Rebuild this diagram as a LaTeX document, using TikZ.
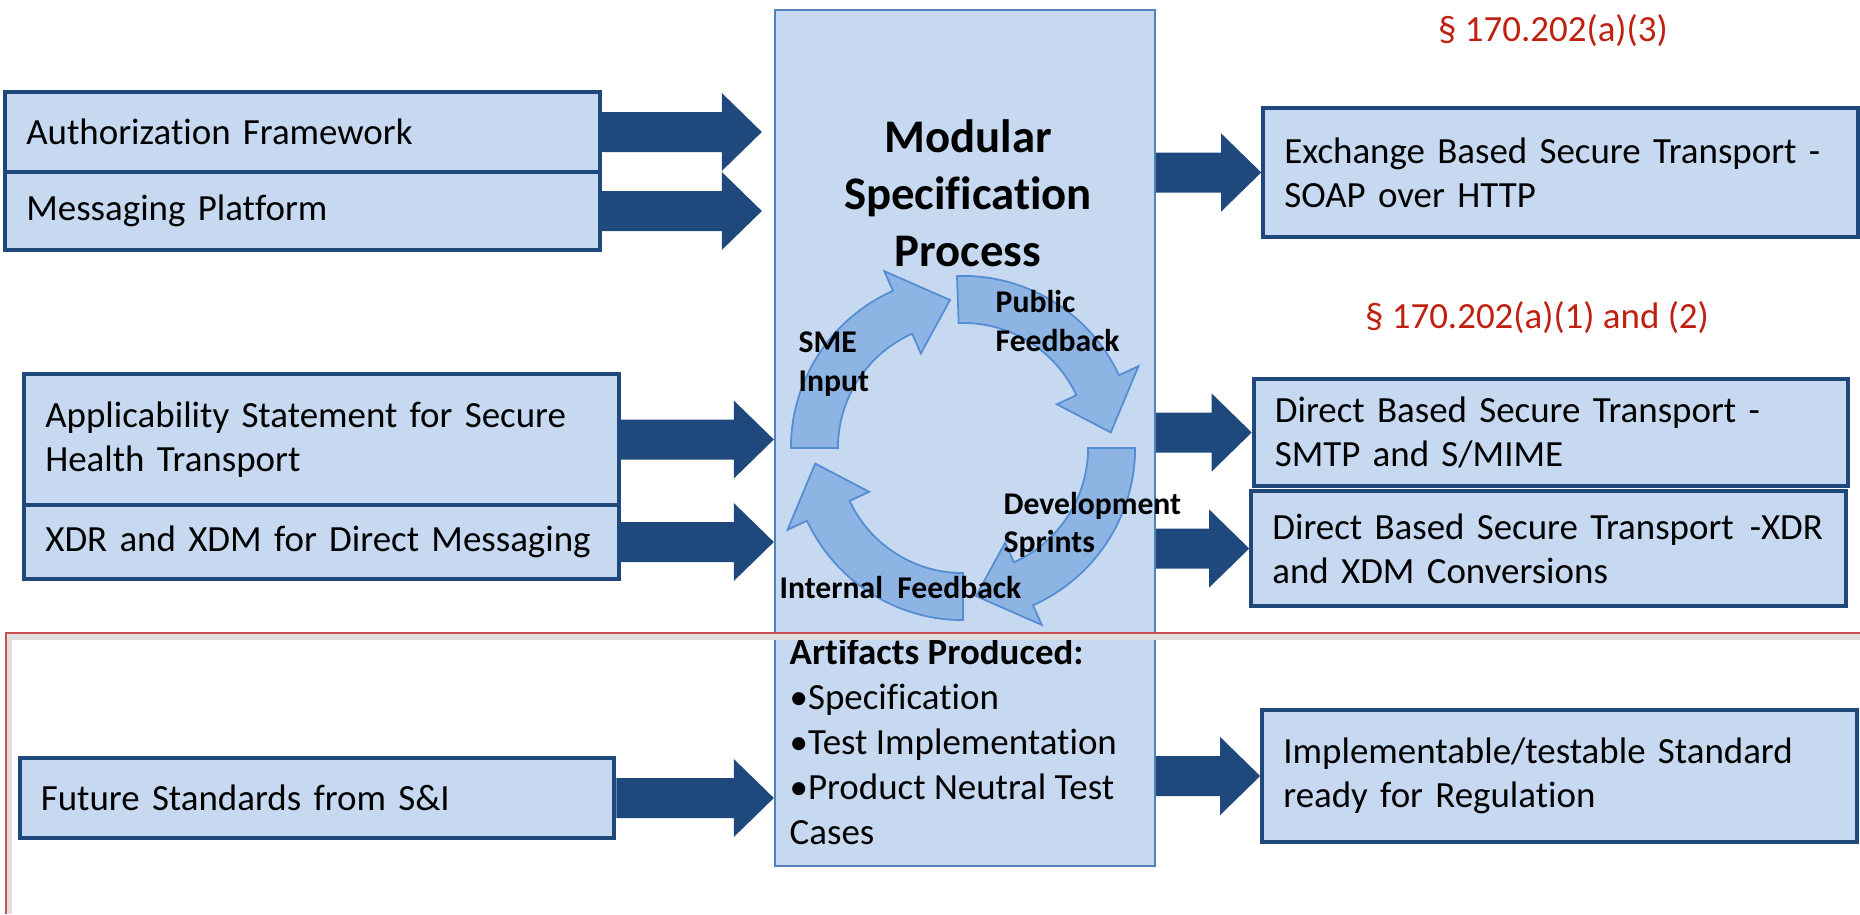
\documentclass[tikz,border=0pt]{standalone}
\usepackage{fontspec}
\setmainfont{Carlito}[Ligatures={NoCommon,NoContextual}]
\usetikzlibrary{calc}

\definecolor{boxfill}{RGB}{198,217,241}
\definecolor{boxline}{RGB}{31,73,125}
\definecolor{procline}{RGB}{79,129,189}
\definecolor{cycfill}{RGB}{141,180,226}
\definecolor{cycline}{RGB}{84,141,212}
\definecolor{regred}{RGB}{192,32,16}
\definecolor{framered}{RGB}{200,80,77}

\tikzset{
  stdbox/.style={draw=boxline, fill=boxfill, line width=1.2pt, inner xsep=0.21cm, inner ysep=0pt,
    text width=5.52cm, align=left, font=\fontsize{10.5}{12.6}\selectfont},
  procbox/.style={draw=procline, fill=boxfill, line width=0.6pt},
  blockarr/.style={fill=boxline},
  cycarr/.style={fill=cycfill, draw=cycline, line width=0.5pt},
  cyclabel/.style={anchor=west, inner sep=0pt, align=left, font=\bfseries\fontsize{9}{11}\selectfont},
  regref/.style={text=regred, font=\fontsize{10.5}{12.6}\selectfont},
  frameline/.style={draw=framered, line width=0.6pt},
}

% block arrow from a start point to a tip (tip height is used)
\newcommand{\fatarrow}[2]{%
  \fill[blockarr] let \p1=(#1), \p2=(#2) in
    (\x1,\y2+0.2cm) -- (\x2-0.4cm,\y2+0.2cm) -- (\x2-0.4cm,\y2+0.39cm) -- (\x2,\y2)
    -- (\x2-0.4cm,\y2-0.39cm) -- (\x2-0.4cm,\y2-0.2cm) -- (\x1,\y2-0.2cm) -- cycle;}

% curved arrow of the cycle: start angle, tip angle
\newcommand{\cycarrow}[2]{%
  \pgfmathsetmacro{\hb}{#2+19}
  \filldraw[cycarr] (#1:1.72cm) arc[start angle=#1, end angle=\hb, radius=1.72cm]
    -- (\hb:1.935cm) -- (#2:1.485cm) -- (\hb:1.035cm) -- (\hb:1.25cm)
    arc[start angle=\hb, end angle=#1, radius=1.25cm] -- cycle;}

\begin{document}
\begin{tikzpicture}[x=0.01cm, y=-0.01cm]
  \useasboundingbox (0,0) rectangle (1860,914);

  % inputs
  \node[stdbox, minimum height=0.80cm] (auth) at (302.5,132) {Authorization Framework};
  \node[stdbox, minimum height=0.78cm] (msg) at (302.5,211) {Messaging Platform};
  \node[stdbox, minimum height=1.31cm] (appl) at (321.5,439.5) {Applicability Statement for Secure\\Health Transport};
  \node[stdbox, minimum height=0.74cm] (xdr) at (321.5,542) {XDR and XDM for Direct Messaging};
  \node[stdbox, minimum height=0.80cm] (future) at (317,798) {Future Standards from S\&I};

  % process
  \node[procbox, minimum width=3.8cm, minimum height=8.56cm] (proc) at (965,438) {};

  % outputs
  \node[stdbox, minimum height=1.29cm] (exch) at (1560.5,172.5) {Exchange Based Secure Transport -\\SOAP over HTTP};
  \node[stdbox, minimum height=1.07cm] (smtp) at (1551,432.5) {Direct Based Secure Transport -\\SMTP and S/MIME};
  \node[stdbox, minimum height=1.15cm] (xdrc) at (1548.5,548.5) {\mbox{Direct Based Secure Transport\hspace{0.1em} -XDR}\\and XDM Conversions};
  \node[stdbox, minimum height=1.32cm] (impl) at (1559.5,776) {Implementable/testable Standard\\ready for Regulation};

  \node[regref] (reg3) at (1553,31) {§ 170.202(a)(3)};
  \node[regref] (reg12) at (1537,318) {§ 170.202(a)(1) and (2)};

  \fatarrow{auth.east}{$(proc.west |- auth.east)+(-12,0)$}
  \fatarrow{msg.east}{$(proc.west |- msg.east)+(-12,0)$}
  \fatarrow{appl.east}{proc.west |- appl.east}
  \fatarrow{xdr.east}{proc.west |- xdr.east}
  \fatarrow{future.east}{proc.west |- future.east}
  \fatarrow{proc.east |- exch.west}{exch.west}
  \fatarrow{proc.east |- smtp.west}{smtp.west}
  \fatarrow{proc.east |- xdrc.west}{xdrc.west}
  \fatarrow{proc.east |- impl.west}{impl.west}

  % cycle
  \begin{scope}[shift={(963,448)}]
    \cycarrow{180}{95}
    \cycarrow{92}{6}
    \cycarrow{0}{-85}
    \cycarrow{-90}{-174}
  \end{scope}

  \node[align=center, font=\bfseries\fontsize{13.3}{16.2}\selectfont] (title) at (968,193) {Modular\\Specification\\Process};
  \node[cyclabel] (pub) at (995,321) {Public\\Feedback};
  \node[cyclabel] (sme) at (798,364) {SME\\Input};
  \node[cyclabel] (dev) at (1003,525) {Development\\Sprints};
  \node[cyclabel] (intl) at (779,587) {Internal\ \ Feedback};

  \node[anchor=west, inner sep=0pt, align=left, font=\fontsize{10.5}{12.8}\selectfont] (arts) at (789,742)
    {\textbf{Artifacts Produced:}\\•Specification\\•Test Implementation\\•Product Neutral Test\\Cases};

  % red frame
  \draw[black!12, line width=1.5pt] (9,914) -- (9,637) -- (1860,637);
  \draw[frameline] (6,914) -- (6,633) -- (1860,633);
\end{tikzpicture}
\end{document}
